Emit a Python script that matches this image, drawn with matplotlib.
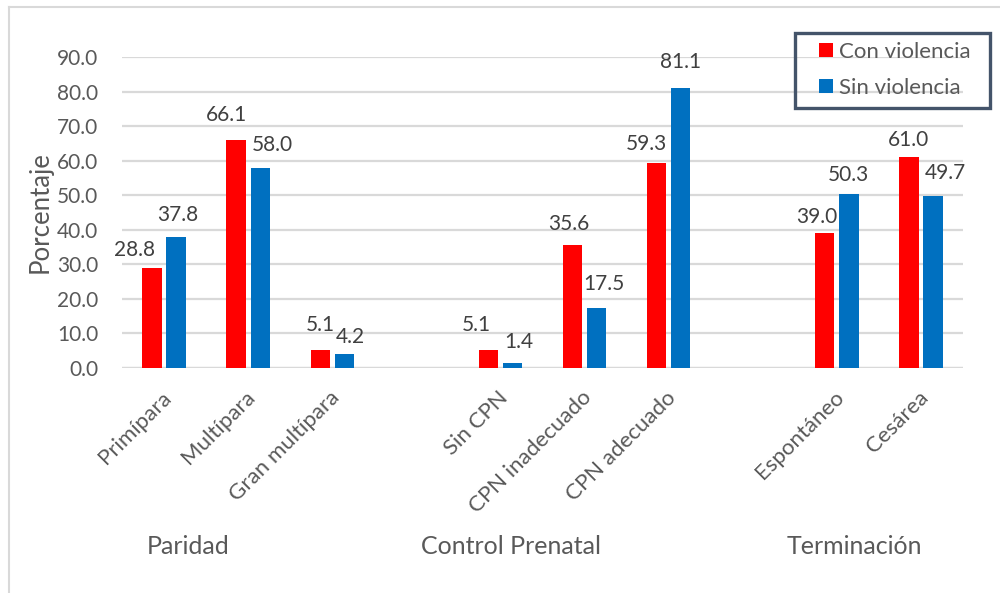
import matplotlib.pyplot as plt
from matplotlib.lines import Line2D
from matplotlib.patches import Patch, Rectangle
from matplotlib.transforms import ScaledTranslation
import numpy as np

plt.rcParams['font.family'] = ['Lato', 'DejaVu Sans']

# categories, with empty slots separating the three groups
categories = ['Primípara', 'Multípara', 'Gran multípara', '',
              'Sin CPN', 'CPN inadecuado', 'CPN adecuado', '',
              'Espontáneo', 'Cesárea']
con_violencia = [28.8, 66.1, 5.1, None, 5.1, 35.6, 59.3, None, 39.0, 61.0]
sin_violencia = [37.8, 58.0, 4.2, None, 1.4, 17.5, 81.1, None, 50.3, 49.7]
groups = ['Paridad', 'Control Prenatal', 'Terminación']
series_names = ['Con violencia', 'Sin violencia']

# hand-nudged label offsets (pixels) so neighbouring values don't collide
con_offsets = [(-18, 18), (-10, 25), (0, 25), None, (-12, 25), (-4, 21), (-10, 19), None, (-8, 16), (0, 17)]
sin_offsets = [(2, 22), (12, 23), (6, 17), None, (6, 21), (7, 24), (0, 26), None, (0, 19), (12, 23)]

RED = '#FF0000'
BLUE = '#0070C0'
GRID = '#D9D9D9'
TXT = '#595959'
LBL = '#404040'
H = 593

fig = plt.figure(figsize=(10, 5.93), dpi=100)
ax = fig.add_axes([0.122, 0.3794, 0.841, 0.5245])

x = np.arange(len(categories))
w = 0.23
off = 0.143
for i in range(len(categories)):
    if con_violencia[i] is None:
        continue
    ax.bar(x[i] - off, con_violencia[i], w, color=RED, zorder=3)
    ax.bar(x[i] + off, sin_violencia[i], w, color=BLUE, zorder=3)
    for val, xo, d in ((con_violencia[i], x[i] - off, con_offsets[i]),
                       (sin_violencia[i], x[i] + off, sin_offsets[i])):
        ax.annotate(f'{val:.1f}', (xo, val), xytext=d, textcoords='offset pixels',
                    ha='center', va='center', fontsize=15, color=LBL)

ax.set_xlim(-0.5, len(categories) - 0.5)
ax.set_ylim(0, 90)
ax.set_yticks(np.arange(0, 91, 10))
ax.set_yticklabels([f'{v:.1f}' for v in np.arange(0, 91, 10)])
ax.yaxis.grid(True, color=GRID, linewidth=1.6, zorder=0)
ax.set_axisbelow(True)
for s in ax.spines.values():
    s.set_visible(False)
ax.axhline(0, color=GRID, linewidth=1.6, zorder=2)
ax.tick_params(axis='y', length=0, pad=17, labelsize=15, labelcolor=TXT)
ax.tick_params(axis='x', length=0, pad=19, labelcolor=TXT)

ax.set_xticks(x)
ax.set_xticklabels(categories, rotation=45, ha='right', va='center',
                   rotation_mode='anchor', fontsize=16, color=TXT)
shift = ScaledTranslation(4 / 100, 0, fig.dpi_scale_trans)
for lab in ax.get_xticklabels():
    lab.set_transform(lab.get_transform() + shift)

ax.set_ylabel('Porcentaje', fontsize=18.5, color=TXT)
ax.yaxis.set_label_coords(-0.083, 0.5)

# group titles under the category labels
for name, gx in zip(groups, [0.188, 0.511, 0.854]):
    fig.text(gx, 1 - 546 / H, name, ha='center', va='center',
             fontsize=18, color=TXT)

# legend: entries without frame, box drawn separately
handles = [Patch(facecolor=RED), Patch(facecolor=BLUE)]
leg = fig.legend(handles, series_names, loc='upper left',
                 bbox_to_anchor=(0.819, 1 - 42 / H), fontsize=16,
                 handlelength=0.62, handleheight=0.62, handletextpad=0.3,
                 labelspacing=0.72, borderpad=0, borderaxespad=0,
                 frameon=False, labelcolor=TXT)
fig.add_artist(Rectangle((0.795, 1 - 108 / H), 0.195, 75 / H,
                         transform=fig.transFigure, fill=False,
                         edgecolor='#44546A', linewidth=2.4))

# chart area border (runs off the right and bottom edges)
fig.add_artist(Line2D([0.009, 0.009], [1 - 7 / H, -0.01], color=GRID,
                      linewidth=1.5, transform=fig.transFigure))
fig.add_artist(Line2D([0.009, 1.01], [1 - 7 / H, 1 - 7 / H], color=GRID,
                      linewidth=1.5, transform=fig.transFigure))

fig.savefig('out.png', dpi=100, facecolor='white')
